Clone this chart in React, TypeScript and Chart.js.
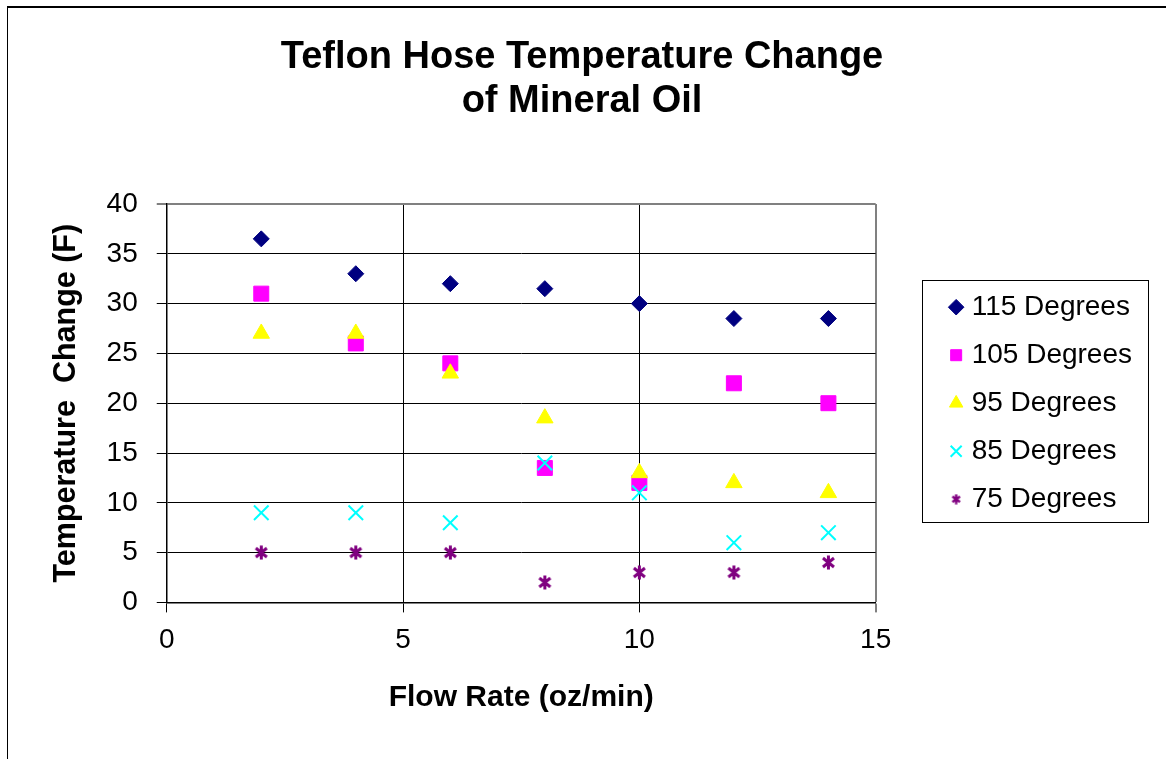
import React, { useEffect, useRef } from 'react';
import { Chart, registerables } from 'chart.js';

Chart.register(...registerables);

// ---- Data ----
const flowRates = [2, 4, 6, 8, 10, 12, 14];
const deg115 = [36.5, 33, 32, 31.5, 30, 28.5, 28.5];
const deg105 = [31, 26, 24, 13.5, 12, 22, 20];
const deg95 = [27, 27, 23, 18.5, 13, 12, 11];
const deg85 = [9, 9, 8, 14, 11, 6, 7];
const deg75 = [5, 5, 5, 2, 3, 3, 4];

const seriesLabels = ['115 Degrees', '105 Degrees', '95 Degrees', '85 Degrees', '75 Degrees'];
const seriesValues = [deg115, deg105, deg95, deg85, deg75];
const seriesColors = ['#000080', '#FF00FF', '#FFFF00', '#00FFFF', '#800080'];

const titleLines = ['Teflon Hose Temperature Change', 'of Mineral Oil'];
const xAxisTitle = 'Flow Rate (oz/min)';
const yAxisTitle = 'Temperature  Change (F)';

const FONT = "'Liberation Sans', Arial, Helvetica, sans-serif";

function makeAsterisk(size: number, color: string, lw: number): HTMLCanvasElement {
  const c = document.createElement('canvas');
  c.width = size;
  c.height = size;
  const g = c.getContext('2d')!;
  g.strokeStyle = color;
  g.lineWidth = lw;
  const m = lw / 2 + 0.5;
  g.beginPath();
  g.moveTo(m, m + 1);
  g.lineTo(size - m, size - m - 1);
  g.moveTo(size - m, m + 1);
  g.lineTo(m, size - m - 1);
  g.moveTo(size / 2, 0.5);
  g.lineTo(size / 2, size - 0.5);
  g.stroke();
  return c;
}

const legendBorderPlugin = {
  id: 'legendBorder',
  afterDraw(chart: any) {
    const lg = chart.legend;
    if (!lg || !lg.legendHitBoxes || !lg.legendHitBoxes.length) return;
    const hb = lg.legendHitBoxes;
    let l = Infinity, t = Infinity, r = -Infinity, b = -Infinity;
    hb.forEach((h: any) => {
      l = Math.min(l, h.left);
      t = Math.min(t, h.top);
      r = Math.max(r, h.left + h.width);
      b = Math.max(b, h.top + h.height);
    });
    const ctx = chart.ctx;
    ctx.save();
    ctx.strokeStyle = '#000';
    ctx.lineWidth = 1;
    const x0 = Math.round(l - 33) + 0.5;
    const y0 = Math.round(t - 13) + 0.5;
    const x1 = Math.round(r + 16) + 0.5;
    const y1 = Math.round(b + 9) + 0.5;
    ctx.strokeRect(x0, y0, x1 - x0, y1 - y0);
    ctx.restore();
  },
};

export default function App() {
  const canvasRef = useRef<HTMLCanvasElement | null>(null);

  useEffect(() => {
    if (!canvasRef.current) return;
    Chart.defaults.font.family = FONT;
    Chart.defaults.color = '#000';

    const bigStar = makeAsterisk(15, seriesColors[4], 3);
    const smallStar = makeAsterisk(11, seriesColors[4], 2.4);

    const styles: any[] = ['rectRot', 'rect', 'triangle', 'crossRot', bigStar];
    const radii = [8, 10.6, 9.5, 10.3, 7];

    const datasets = seriesLabels.map((label, i) => ({
      label,
      data: flowRates.map((x, j) => ({ x, y: seriesValues[i][j] })),
      pointStyle: styles[i],
      pointRadius: radii[i],
      pointHoverRadius: radii[i],
      backgroundColor: seriesColors[i],
      borderColor: seriesColors[i],
      borderWidth: i === 3 ? 2 : 1,
      showLine: false,
      order: seriesLabels.length - i,
    }));

    const chart = new Chart(canvasRef.current, {
      type: 'scatter',
      data: { datasets },
      plugins: [legendBorderPlugin],
      options: {
        animation: false,
        responsive: false,
        events: [],
        layout: { padding: { left: 22, right: 24, top: 0, bottom: 43 } },
        plugins: {
          title: {
            display: true,
            text: titleLines,
            font: { size: 38, weight: 'bold', family: FONT, lineHeight: 1.15 },
            color: '#000',
            padding: { top: 36, bottom: 80.6 },
          },
          legend: {
            display: true,
            position: 'right',
            align: 'center',
            fullSize: false,
            maxWidth: 300,
            labels: {
              usePointStyle: true,
              boxWidth: 3,
              boxHeight: 11,
              padding: 20,
              font: { size: 28, family: FONT },
              color: '#000',
              sort: (a: any, b: any) => a.datasetIndex - b.datasetIndex,
              generateLabels: (ch: any) => {
                const items = Chart.defaults.plugins.legend.labels.generateLabels(ch);
                return items.map((it: any) => {
                  if (it.datasetIndex === 4) it.pointStyle = smallStar;
                  return it;
                });
              },
            },
          },
          tooltip: { enabled: false },
        },
        scales: {
          x: {
            type: 'linear',
            min: 0,
            max: 15,
            ticks: { stepSize: 5, padding: 11, font: { size: 28, family: FONT }, color: '#000' },
            grid: {
              color: (c: any) => (c.tick && c.tick.value === 15 ? '#808080' : '#000'),
              lineWidth: (c: any) => (c.tick && c.tick.value === 15 ? 2 : 1),
              tickColor: '#000',
              tickLength: 10,
              tickWidth: 1,
            },
            border: { color: '#000', width: 1.5 },
            title: {
              display: true,
              text: xAxisTitle,
              font: { size: 30, weight: 'bold', family: FONT },
              color: '#000',
              padding: { top: 12, bottom: 0 },
            },
          },
          y: {
            type: 'linear',
            min: 0,
            max: 40,
            ticks: { stepSize: 5, padding: 19, font: { size: 28, family: FONT }, color: '#000' },
            grid: {
              color: (c: any) => (c.tick && c.tick.value === 40 ? '#808080' : '#000'),
              lineWidth: (c: any) => (c.tick && c.tick.value === 40 ? 2 : 1),
              tickColor: '#000',
              tickLength: 10,
              tickWidth: 1,
            },
            border: { color: '#000', width: 1.5 },
            title: {
              display: true,
              text: yAxisTitle,
              font: { size: 30.5, weight: 'bold', family: FONT },
              color: '#000',
              padding: { top: 26, bottom: 3 },
            },
          },
          spacer: {
            type: 'linear',
            position: 'right',
            display: true,
            grid: { display: false, drawOnChartArea: false, drawTicks: false },
            ticks: { display: false },
            border: { display: false },
            title: { display: false },
            afterFit: (s: any) => {
              s.width = 59;
            },
          },
        },
      } as any,
    });

    return () => {
      chart.destroy();
    };
  }, []);

  return (
    <div style={{ position: 'absolute', left: 0, top: 0, width: 1166, height: 759, background: '#fff', overflow: 'hidden' }}>
      <canvas ref={canvasRef} width={1166} height={759} style={{ display: 'block', position: 'absolute', left: 0, top: 0 }} />
      <div
        style={{
          position: 'absolute',
          left: 7,
          top: 6,
          width: 1159,
          height: 753,
          boxSizing: 'border-box',
          borderLeft: '1px solid #000',
          borderTop: '2px solid #000',
          pointerEvents: 'none',
        }}
      />
    </div>
  );
}
